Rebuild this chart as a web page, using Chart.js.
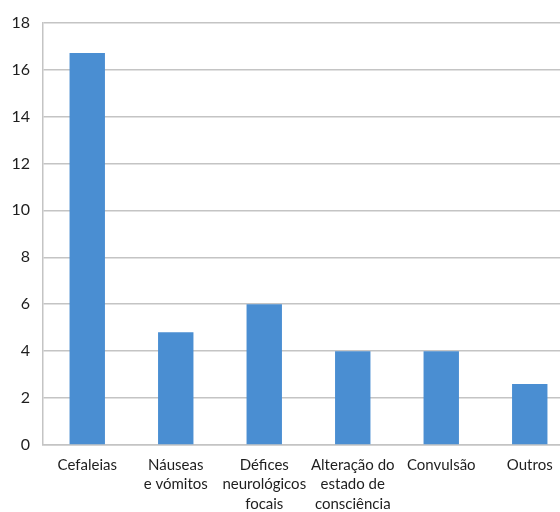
<!DOCTYPE html>
<html lang="pt">
<head>
<meta charset="utf-8">
<title>Sintomas de apresentação</title>
<script src="https://cdn.jsdelivr.net/npm/chart.js@4/dist/chart.umd.min.js"></script>
<style>
  html, body { margin: 0; padding: 0; background: #ffffff; overflow: hidden; }
  #wrap { position: relative; width: 574px; height: 512px; }
</style>
</head>
<body>
<div id="wrap"><canvas id="chart"></canvas></div>
<script>
// Sintomas de apresentação (número de doentes)
const categories = [
  'Cefaleias',
  ['Náuseas', 'e vómitos'],
  ['Défices', 'neurológicos', 'focais'],
  ['Alteração do', 'estado de', 'consciência'],
  'Convulsão',
  'Outros'
];
const counts = [16.7, 4.8, 6.0, 4.0, 4.0, 2.6];
const yTicks = [0, 2, 4, 6, 8, 10, 12, 14, 16, 18];

const gridColor = '#c4c4c4';
const textColor = '#1e1e1e';
const family = 'Lato, "Open Sans", sans-serif';

new Chart(document.getElementById('chart'), {
  type: 'bar',
  data: {
    labels: categories,
    datasets: [{
      data: counts,
      backgroundColor: '#4a8ed2',
      borderWidth: 0,
      categoryPercentage: 1.0,
      barPercentage: 0.4
    }]
  },
  options: {
    responsive: true,
    maintainAspectRatio: false,
    animation: false,
    layout: { padding: { top: 16, right: 0, bottom: 0, left: 0 } },
    plugins: {
      legend: { display: false },
      tooltip: { enabled: false }
    },
    scales: {
      x: {
        grid: { display: false, drawTicks: false },
        border: { display: true, color: gridColor, width: 1.5 },
        ticks: {
          color: textColor,
          font: { family, size: 15, lineHeight: 1.3 },
          padding: 10,
          maxRotation: 0,
          autoSkip: false
        },
        afterFit(scale) { scale.height = 67; }
      },
      y: {
        min: 0,
        max: yTicks[yTicks.length - 1],
        afterBuildTicks(scale) {
          scale.ticks = yTicks.map(v => ({ value: v }));
        },
        grid: { color: gridColor, lineWidth: 1.5, drawTicks: false },
        border: { display: true, color: gridColor, width: 1.5 },
        ticks: {
          color: textColor,
          font: { family, size: 16 },
          padding: 13
        },
        afterFit(scale) { scale.width = 43; }
      }
    }
  }
});
</script>
</body>
</html>
